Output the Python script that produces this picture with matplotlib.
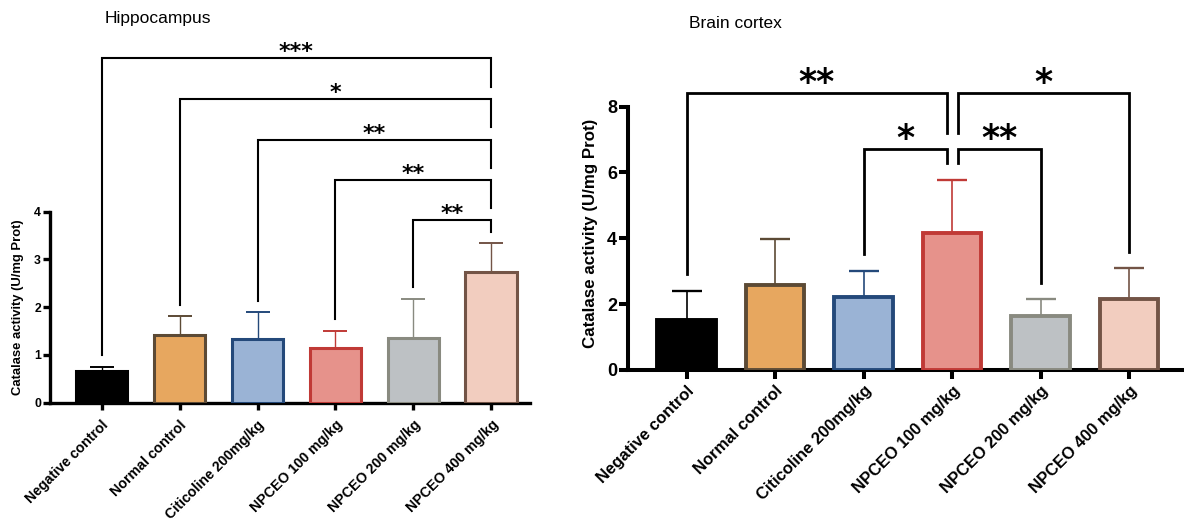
import numpy as np
import matplotlib
matplotlib.use("Agg")
import matplotlib.pyplot as plt

plt.rcParams['font.family'] = ['Liberation Sans', 'DejaVu Sans']

groups = ['Negative control', 'Normal control', 'Citicoline 200mg/kg',
          'NPCEO 100 mg/kg', 'NPCEO 200 mg/kg', 'NPCEO 400 mg/kg']
fills = ['#000000', '#E7A75F', '#9AB3D5', '#E6928B', '#BDC1C4', '#F2CDBF']
edges = ['#000000', '#5C4A35', '#24497A', '#C03A36', '#898A80', '#735446']

# hippocampus: mean and upper SD
hip_mean = [0.66, 1.41, 1.33, 1.14, 1.35, 2.74]
hip_sd = [0.09, 0.41, 0.56, 0.37, 0.83, 0.61]
# brain cortex
ctx_mean = [1.53, 2.59, 2.22, 4.17, 1.65, 2.16]
ctx_sd = [0.88, 1.39, 0.79, 1.61, 0.51, 0.95]

# significance comparisons: (group a, group b, label)
hip_pairs = [(0, 5, '***'), (1, 5, '*'), (2, 5, '**'), (3, 5, '**'), (4, 5, '**')]
hip_levels = [7.21, 6.37, 5.51, 4.66, 3.83]
hip_legs = [(1.00, 6.61), (2.04, 5.77), (2.13, 4.91), (1.75, 4.07), (2.42, 3.58)]

ctx_pairs = [(0, 3, '**'), (3, 5, '*'), (2, 3, '*'), (3, 4, '**')]
ctx_levels = [8.40, 8.40, 6.71, 6.71]
ctx_legs = [(2.91, 7.21), (7.21, 3.59), (3.51, 6.28), (6.28, 2.65)]

W, H = 1184, 522
fig = plt.figure(figsize=(W / 100, H / 100), dpi=100)


def px_axes(l, r, b, t):
    return fig.add_axes([l / W, 1 - b / H, (r - l) / W, (b - t) / H])


def panel(ax, means, sd, pairs, levels, legs, s):
    x = np.arange(len(groups))
    for i in x:
        ax.errorbar(i, means[i], yerr=[[0], [sd[i]]], fmt='none', ecolor=edges[i],
                    elinewidth=s['elw'], capsize=s['cap'], capthick=s['elw'] * 1.4, zorder=2)
    ax.bar(x, means, width=0.66, color=fills, edgecolor=edges, linewidth=s['blw'], zorder=3)
    for (a, b, lab), y, (la, lb) in zip(pairs, levels, legs):
        xa, xb = a, b
        if a == 3 and s['split']:
            xa += 0.06
        if b == 3 and s['split']:
            xb -= 0.06
        ax.plot([xa, xa, xb, xb], [la, y, y, lb], color='black', lw=s['brw'],
                solid_joinstyle='miter', clip_on=False, zorder=4)
        ax.text((xa + xb) / 2, y, lab, ha='center', va='baseline', family='DejaVu Sans',
                fontweight='bold', fontsize=s['star'])
    for side in ['top', 'right']:
        ax.spines[side].set_visible(False)
    for side in ['left', 'bottom']:
        ax.spines[side].set_linewidth(s['slw'])
    ax.spines['left'].set_bounds(0, s['ymax'])
    ax.set_yticks(np.arange(0, s['ymax'] + 1, s['ystep']))
    ax.set_xticks(x)
    ax.set_xticklabels(groups, rotation=45, ha='right', va='top', rotation_mode='anchor',
                       fontweight='bold', fontsize=s['xfs'])
    for t in ax.get_yticklabels():
        t.set_fontweight('bold')
    ax.tick_params(axis='y', length=s['tl'], width=s['slw'], labelsize=s['yfs'], pad=1.5)
    ax.tick_params(axis='x', length=s['tl'], width=s['slw'], pad=s['xpad'])


ax1 = px_axes(50, 530, 402.7, 30)
ax1.set_xlim(-(101.7 - 50) / 77.9, (530 - 101.7) / 77.9)
ax1.set_ylim(0, (402.7 - 30) / 47.75)
panel(ax1, hip_mean, hip_sd, hip_pairs, hip_levels, hip_legs,
      dict(elw=1.0, cap=8.5, blw=2.2, brw=1.5, star=16, slw=2.4, ymax=4, ystep=1,
           xfs=10.2, yfs=8.8, tl=5, split=False, xpad=6))

ax2 = px_axes(628.3, 1184, 370, 40)
ax2.set_xlim(-(686.7 - 628.3) / 88.5, (1184 - 686.7) / 88.5)
ax2.set_ylim(0, (370 - 40) / 32.92)
panel(ax2, ctx_mean, ctx_sd, ctx_pairs, ctx_levels, ctx_legs,
      dict(elw=1.2, cap=10.5, blw=2.8, brw=2.0, star=25, slw=2.9, ymax=8, ystep=2,
           xfs=12, yfs=13, tl=6.5, split=True, xpad=3))

fig.text(105 / W, 1 - 18 / H, 'Hippocampus', fontsize=12.5, va='center', ha='left')
fig.text(689 / W, 1 - 23 / H, 'Brain cortex', fontsize=12.5, va='center', ha='left')
fig.text(18 / W, 1 - 307.5 / H, 'Catalase activity (U/mg Prot)', rotation=90,
         fontsize=9.4, fontweight='bold', va='center', ha='center')
fig.text(590 / W, 1 - 233 / H, 'Catalase activity (U/mg Prot)', rotation=90,
         fontsize=12.2, fontweight='bold', va='center', ha='center')

fig.savefig('out.png', dpi=100)
